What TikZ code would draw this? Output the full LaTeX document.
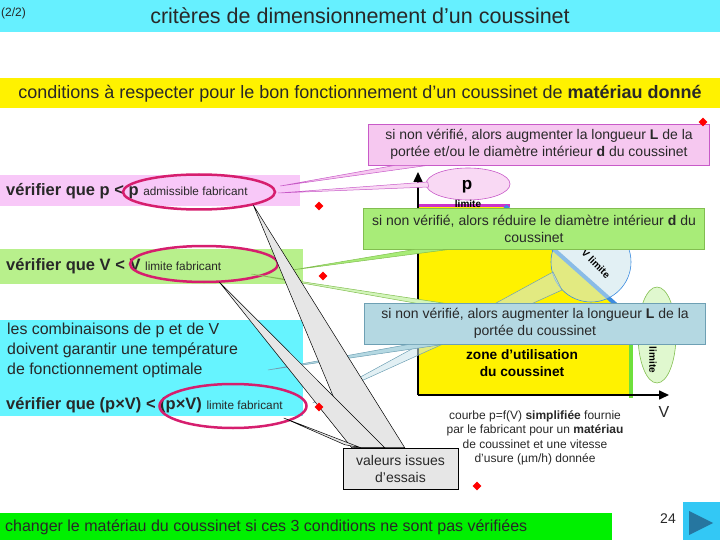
\documentclass[tikz,border=0pt]{standalone}
\usepackage{fontspec}
\setmainfont{Liberation Sans}
\usetikzlibrary{shapes.geometric, arrows.meta}

\definecolor{titlecyan}{RGB}{102,240,255}
\definecolor{boxpink}{RGB}{248,200,248}
\definecolor{boxgreen}{RGB}{184,240,140}
\definecolor{boxcyan}{RGB}{102,244,255}
\definecolor{ringred}{RGB}{214,30,110}
\definecolor{callpink}{RGB}{246,200,240}
\definecolor{edgepink}{RGB}{200,90,200}
\definecolor{callgreen}{RGB}{168,236,120}
\definecolor{edgegreen}{RGB}{130,190,80}
\definecolor{callblue}{RGB}{180,216,226}
\definecolor{edgeblue}{RGB}{110,160,180}
\definecolor{essaigray}{RGB}{230,230,230}
\definecolor{limpink}{RGB}{204,51,204}
\definecolor{limblue}{RGB}{60,140,224}
\definecolor{limgreen}{RGB}{110,224,60}
\definecolor{barlime}{RGB}{0,240,0}
\definecolor{navcyan}{RGB}{51,200,245}
\definecolor{navblue}{RGB}{38,118,160}
\definecolor{txtgray}{RGB}{40,40,40}

\tikzset{
  txt/.style={inner sep=0pt, text=txtgray},
  ring/.style={ellipse, draw=ringred, line width=2.5pt, inner sep=0pt},
  callout/.style={rectangle, draw=#1, line width=0.6pt, minimum width=341pt,
    minimum height=41pt, align=center, text=txtgray, inner sep=0pt,
    font=\fontsize{14}{17}\selectfont},
  reddot/.style={diamond, fill=red, minimum size=9pt, inner sep=0pt},
  bubble/.style={ellipse, inner sep=0pt, line width=0.6pt},
  wedge/.style={fill=essaigray, draw=black, line width=0.5pt},
  essaibox/.style={draw=black, fill=essaigray, line width=0.6pt, minimum width=115pt,
    minimum height=41pt, align=center, inner sep=0pt, text=txtgray,
    font=\fontsize{14}{17}\selectfont},
}

\newcommand{\tail}[4]{\filldraw[#1] (#2) -- (#3) -- (#4) -- cycle;}

\begin{document}
\begin{tikzpicture}[x=1pt,y=-1pt]
\useasboundingbox (0,0) rectangle (720,540);

% bandeau titre
\fill[titlecyan] (0,0) rectangle (720,32);
\node[txt, anchor=west, font=\fontsize{12}{12}\selectfont] (page) at (1,13) {(2/2)};
\node[txt, font=\fontsize{21.5}{21.5}\selectfont] (titre) at (360,16) {critères de dimensionnement d’un coussinet};

% bandeau jaune
\fill[yellow] (0,78) rectangle (720,108);
\node[txt, font=\fontsize{18}{18}\selectfont] (cond) at (360,94)
  {conditions à respecter pour le bon fonctionnement d’un coussinet de \textbf{matériau donné}};

% les trois conditions
\fill[boxpink] (0,175) rectangle (300,206);
\node[txt, anchor=west, font=\fontsize{16.5}{16.5}\selectfont] (verifp) at (6,191)
  {\textbf{vérifier que p < p} {\fontsize{11.8}{11.8}\selectfont admissible fabricant}};
\fill[boxgreen] (0,249) rectangle (303,284);
\node[txt, anchor=west, font=\fontsize{16.5}{16.5}\selectfont] (verifv) at (6,266)
  {\textbf{vérifier que V < V} {\fontsize{11.8}{11.8}\selectfont limite fabricant}};
\fill[boxcyan] (0,320) rectangle (303,416);
\node[txt, anchor=north west, align=left, font=\fontsize{15.9}{20}\selectfont] (combi) at (7,323)
  {les combinaisons de p et de V\\doivent garantir une température\\de fonctionnement optimale};
\node[txt, anchor=west, font=\fontsize{16.5}{16.5}\selectfont] (verifpv) at (6,405)
  {\textbf{vérifier que (p×V) < (p×V)} {\fontsize{11.8}{11.8}\selectfont limite fabricant}};

% diagramme p = f(V)
\fill[yellow] (418,206) -- (505,206) -- (631,318) -- (631,395) -- (418,395) -- cycle;
\draw[limpink, line width=3pt] (418,206) -- (510,206);
\draw[limblue, line width=4pt] (505,206) -- (631,318);
\draw[limgreen, line width=4pt] (631,316) -- (631,398);
\coordinate (O) at (418,395);
\draw[line width=1.6pt, -{Triangle[length=10pt,width=9pt]}] (O) -- (418,172);
\draw[line width=1.6pt, -{Triangle[length=10pt,width=9pt]}] (O) -- (669,395);
\node[txt, font=\fontsize{16}{16}\selectfont] (axev) at (664,412) {V};
\node[txt, align=center, text=black, font=\bfseries\fontsize{13.7}{17}\selectfont] (zone) at (522,363)
  {zone d’utilisation\\du coussinet};

% bulles des limites
\node[bubble, fill=callpink!70!white, draw=edgepink, minimum width=84pt, minimum height=32pt] (plim) at (468,184) {};
\node[txt, text=black, font=\bfseries\fontsize{17}{17}\selectfont] (plimp) at (467,187) {p};
\node[txt, text=black, font=\bfseries\fontsize{10}{10}\selectfont] (plimt) at (468,204) {limite};
\node[bubble, fill=callblue!70!white, fill opacity=0.55, draw=limblue, minimum size=80pt] (pvlim) at (591,262) {};
\node[txt, text=black, rotate=-45, font=\bfseries\fontsize{10}{10}\selectfont] (pvlimt) at (596,264) {V limite};
\node[bubble, fill=callgreen!50!white, fill opacity=0.7, draw=edgegreen, minimum width=38pt, minimum height=96pt] (vlim) at (657,335) {};
\node[txt, text=black, rotate=-90, font=\bfseries\fontsize{10}{10}\selectfont] (vlimt) at (653,360) {limite};

% entourages
\node[ring, minimum width=152pt, minimum height=35pt] (padm) at (199,192) {};
\node[ring, minimum width=148pt, minimum height=36pt] (vlimf) at (204,264) {};
\node[ring, minimum width=147pt, minimum height=44pt] (pvlimf) at (233,406) {};

% queues des bulles
\tail{fill=callpink!70!white, draw=edgepink, line width=0.5pt}{[shift={(2,1)}]padm.east}{[shift={(2,-2)}]plim.west}{[shift={(3,3)}]plim.west}
\tail{fill=callgreen!50!white, draw=edgegreen, line width=0.5pt}{[shift={(-28,10)}]vlimf.east}{[shift={(-16,-2)}]vlim.center}{[shift={(-17,8)}]vlim.center}
\tail{fill=callblue!70!white, fill opacity=0.55, draw=edgeblue, line width=0.5pt}{[shift={(5,-3)}]pvlimf.east}{[shift={(-38,10)}]pvlim.center}{[shift={(-29,28)}]pvlim.center}

% bulles « si non vérifié »
\node[callout=edgepink, fill=callpink] (callp) at (539,144.5)
  {si non vérifié, alors augmenter la longueur \textbf{L} de la\\portée et/ou le diamètre intérieur \textbf{d} du coussinet};
\tail{fill=callpink, draw=edgepink, line width=0.5pt}{[shift={(4,-6)}]padm.east}{[xshift=27pt]callp.south west}{[xshift=60pt]callp.south west}
\node[callout=edgegreen, fill=callgreen] (callg) at (534,228.5)
  {si non vérifié, alors réduire le diamètre intérieur \textbf{d} du\\coussinet};
\tail{fill=callgreen, draw=edgegreen, line width=0.5pt}{[shift={(13,6)}]vlimf.east}{[xshift=52pt]callg.south west}{[xshift=87pt]callg.south west}
\coordinate (optim) at (268,370);
\node[callout=edgeblue, fill=callblue] (callb) at (535,323.5)
  {si non vérifié, alors augmenter la longueur \textbf{L} de la\\portée du coussinet};
\tail{fill=callblue, draw=edgeblue, line width=0.5pt}{optim}{[xshift=45pt]callb.south west}{[xshift=80pt]callb.south west}

% valeurs d'essais
\node[essaibox] (essai) at (400.5,468.5) {valeurs issues\\d'essais};
\tail{wedge}{[shift={(-23,13)}]padm.east}{[xshift=12pt]essai.north west}{[xshift=62pt]essai.north west}
\tail{wedge}{[shift={(-60,18)}]vlimf.east}{[xshift=9pt]essai.north west}{[xshift=42pt]essai.north west}
\tail{wedge}{[shift={(-24,12)}]pvlimf.east}{[shift={(2,-3)}]essai.north west}{[xshift=18pt]essai.north west}
\node[essaibox] at (essai) {valeurs issues\\d'essais};

% légende de la courbe
\node[txt, align=center, font=\fontsize{12}{14.5}\selectfont] (legende) at (535,438)
  {courbe p=f(V) \textbf{simplifiée} fournie\\par le fabricant pour un \textbf{matériau}\\de coussinet et une vitesse\\d'usure (µm/h) donnée};

% losanges rouges
\foreach \x/\y in {703/122, 319/206, 323/276, 319/407, 477/486}
  \node[reddot] at (\x,\y) {};

% bandeau du bas
\fill[barlime] (0,513) rectangle (612,540);
\node[txt, anchor=west, font=\fontsize{16}{16}\selectfont] (changer) at (5,527)
  {changer le matériau du coussinet si ces 3 conditions ne sont pas vérifiées};
\node[txt, font=\fontsize{14}{14}\selectfont] (numero) at (668,519) {24};
\fill[navcyan] (683,502) rectangle (720,540);
\fill[navblue] (689,511) -- (689,535) -- (713,523) -- cycle;
\end{tikzpicture}
\end{document}
